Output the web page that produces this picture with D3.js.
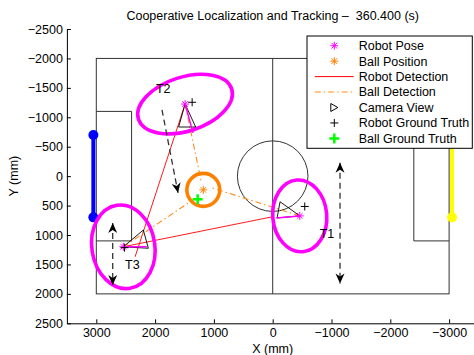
<!DOCTYPE html>
<html>
<head>
<meta charset="utf-8">
<script src="https://cdn.jsdelivr.net/npm/d3@7"></script>
<style>
	body { margin: 0; background: #fff; }
	svg { font-family: "Liberation Sans", Arial, Helvetica, sans-serif; }
</style>
</head>
<body>
<script>
// field geometry (mm)
const fieldX = [3000, -3000];
const fieldY = [-2000, 2000];
const boxX = [2400, -2400];
const boxHalf = 1100;
const circleR = 600;
const goalX = [3050, -3050];
const goalHalf = 700;
const goalColors = ["#0000ff", "#ffff00"];

// robots (mm)
const robotNames = ["T1", "T2", "T3"];
const poseX = [-460, 1490, 2540];
const poseY = [675, -1225, 1200];
const truthX = [-545, 1370, 2520];
const truthY = [515, -1255, 1215];
const headX = [-60, 1355, 2140];
const headY = [710, -735, 1200];
const camX = [[-125, -75], [1600, 1310], [2200, 2115]];
const camY = [[435, 710], [-835, -835], [915, 1225]];
const ellA = [612, 833, 714];
const ellB = [459, 459, 536];
const ellAngle = [85, -18, 81];
const labelX = [-800, 1985, 2510];
const labelY = [1045, -1415, 1580];

// robot detections: from robot index to point
const robotDetFrom = [1, 2];
const robotDetX = [2340, -20];
const robotDetY = [1370, 685];

// ball detections from each robot
const ballDetX = [1030, 1215, 1285];
const ballDetY = [200, 95, 355];
const ballEst = [1180, 233];
const ballR = 280;
const ballTruth = [1276, 391];

// motion arrows
const arrowX1 = [1883, 2721, -1145];
const arrowY1 = [-1128, 796, -226];
const arrowX2 = [1610, 2721, -1145];
const arrowY2 = [284, 1850, 1823];
const arrowBoth = [false, true, true];

const xTicks = [3000, 2000, 1000, 0, -1000, -2000, -3000];
const yTicks = [-2500, -2000, -1500, -1000, -500, 0, 500, 1000, 1500, 2000, 2500];

const legendItems = ["Robot Pose", "Ball Position", "Robot Detection", "Ball Detection",
	"Camera View", "Robot Ground Truth", "Ball Ground Truth"];

const width = 474, height = 355;
const fs = 12.5;

const svg = d3.select("body").append("svg")
	.attr("width", width)
	.attr("height", height);

const x = d3.scaleLinear().domain([3500, -3500]).range([66.9, 478.5]);
const y = d3.scaleLinear().domain([-2500, 2500]).range([29, 323.3]);
const px = d => Math.abs(x(d) - x(0));
const fmt = d3.format("d");

function asterisk(g, cx, cy, s, color) {
	const k = s * 0.7;
	g.append("path")
		.attr("d", `M${cx - s},${cy}H${cx + s}M${cx},${cy - s}V${cy + s}M${cx - k},${cy - k}L${cx + k},${cy + k}M${cx - k},${cy + k}L${cx + k},${cy - k}`)
		.attr("stroke", color).attr("stroke-width", 1).attr("fill", "none");
}
function plus(g, cx, cy, s, color, w) {
	g.append("path")
		.attr("d", `M${cx - s},${cy}H${cx + s}M${cx},${cy - s}V${cy + s}`)
		.attr("stroke", color).attr("stroke-width", w).attr("fill", "none");
}

// axes
svg.append("g")
	.attr("transform", `translate(0,${y(2500)})`)
	.call(d3.axisBottom(x).tickValues(xTicks).tickFormat(fmt).tickSizeInner(-4).tickSizeOuter(0).tickPadding(5));
svg.append("g")
	.attr("transform", `translate(${x(3500)},0)`)
	.call(d3.axisLeft(y).tickValues(yTicks).tickFormat(fmt).tickSizeInner(-4).tickSizeOuter(0).tickPadding(4));
svg.selectAll(".tick text").attr("font-size", fs).attr("fill", "#000");
svg.selectAll(".domain, .tick line").attr("stroke", "#000");
svg.selectAll("g").attr("font-family", null);

svg.append("text")
	.attr("x", x(0)).attr("y", 353)
	.attr("text-anchor", "middle").attr("font-size", fs)
	.text("X (mm)");
svg.append("text")
	.attr("transform", `translate(18,${y(0)}) rotate(-90)`)
	.attr("text-anchor", "middle").attr("font-size", fs)
	.text("Y (mm)");
svg.append("text")
	.attr("x", (x(3500) + x(-3500)) / 2).attr("y", 19.5)
	.attr("text-anchor", "middle").attr("font-size", fs)
	.attr("xml:space", "preserve")
	.text("Cooperative Localization and Tracking \u2013  360.400 (s)");

// field
const field = svg.append("g").attr("stroke", "#333").attr("stroke-width", 1).attr("fill", "none");
field.append("rect")
	.attr("x", x(fieldX[0])).attr("y", y(fieldY[0]))
	.attr("width", x(fieldX[1]) - x(fieldX[0])).attr("height", y(fieldY[1]) - y(fieldY[0]));
field.append("line")
	.attr("x1", x(0)).attr("x2", x(0)).attr("y1", y(fieldY[0])).attr("y2", y(fieldY[1]));
field.append("circle").attr("cx", x(0)).attr("cy", y(0)).attr("r", px(circleR));
boxX.forEach((bx, i) => {
	field.append("path")
		.attr("d", `M${x(fieldX[i])},${y(-boxHalf)}H${x(bx)}V${y(boxHalf)}H${x(fieldX[i])}`);
});

// goals
goalX.forEach((gx, i) => {
	svg.append("line")
		.attr("x1", x(gx)).attr("x2", x(gx)).attr("y1", y(-goalHalf)).attr("y2", y(goalHalf))
		.attr("stroke", goalColors[i]).attr("stroke-width", 4);
	[-goalHalf, goalHalf].forEach(gy => {
		svg.append("circle").attr("cx", x(gx)).attr("cy", y(gy)).attr("r", 5)
			.attr("fill", goalColors[i]);
	});
});

// detections
robotDetFrom.forEach((r, i) => {
	svg.append("line")
		.attr("x1", x(poseX[r])).attr("y1", y(poseY[r]))
		.attr("x2", x(robotDetX[i])).attr("y2", y(robotDetY[i]))
		.attr("stroke", "#ff0000").attr("stroke-width", 0.9);
});
ballDetX.forEach((bx, i) => {
	svg.append("line")
		.attr("x1", x(poseX[i])).attr("y1", y(poseY[i]))
		.attr("x2", x(bx)).attr("y2", y(ballDetY[i]))
		.attr("stroke", "#ff8c1a").attr("stroke-width", 1.1)
		.attr("stroke-dasharray", "6,3,1.5,3");
});

// uncertainty ellipses
robotNames.forEach((n, i) => {
	svg.append("ellipse")
		.attr("transform", `translate(${x(poseX[i])},${y(poseY[i])}) rotate(${ellAngle[i]})`)
		.attr("rx", px(ellA[i])).attr("ry", px(ellB[i]))
		.attr("fill", "none").attr("stroke", "#ff00ff").attr("stroke-width", 3.6);
});
svg.append("circle")
	.attr("cx", x(ballEst[0])).attr("cy", y(ballEst[1])).attr("r", px(ballR))
	.attr("fill", "none").attr("stroke", "#ff8000").attr("stroke-width", 3.6);

// camera views, headings, poses
robotNames.forEach((n, i) => {
	const cx = x(poseX[i]), cy = y(poseY[i]);
	svg.append("path")
		.attr("d", `M${cx},${cy}L${x(camX[i][0])},${y(camY[i][0])}L${x(camX[i][1])},${y(camY[i][1])}Z`)
		.attr("fill", "none").attr("stroke", "#000").attr("stroke-width", 0.9);
	svg.append("line")
		.attr("x1", cx).attr("y1", cy).attr("x2", x(headX[i])).attr("y2", y(headY[i]))
		.attr("stroke", "#ff00ff").attr("stroke-width", 1.5);
	asterisk(svg, cx, cy, 4, "#ff00ff");
	plus(svg, x(truthX[i]), y(truthY[i]), 4, "#000", 1);
	svg.append("text")
		.attr("x", x(labelX[i])).attr("y", y(labelY[i]))
		.attr("font-size", fs).text(n);
});
asterisk(svg, x(ballEst[0]), y(ballEst[1]), 4, "#ff8000");
plus(svg, x(ballTruth[0]), y(ballTruth[1]), 5, "#00ff00", 2.5);

// arrows
function head(gx, gy, ang) {
	svg.append("path")
		.attr("d", "M0,0L-10,-4.5L-7,0L-10,4.5Z")
		.attr("transform", `translate(${gx},${gy}) rotate(${ang})`)
		.attr("fill", "#000");
}
arrowX1.forEach((ax, i) => {
	const x1 = x(ax), y1 = y(arrowY1[i]), x2 = x(arrowX2[i]), y2 = y(arrowY2[i]);
	svg.append("line")
		.attr("x1", x1).attr("y1", y1).attr("x2", x2).attr("y2", y2)
		.attr("stroke", "#333").attr("stroke-width", 1.3).attr("stroke-dasharray", "6,4");
	const ang = Math.atan2(y2 - y1, x2 - x1) * 180 / Math.PI;
	head(x2, y2, ang);
	if (arrowBoth[i]) head(x1, y1, ang + 180);
});

// legend
const lg = svg.append("g");
lg.append("rect")
	.attr("x", 307).attr("y", 36).attr("width", 165.3).attr("height", 112.3)
	.attr("fill", "#fff").attr("stroke", "#000").attr("stroke-width", 1);
legendItems.forEach((t, i) => {
	const ry = 45.7 + i * 15.45;
	lg.append("text").attr("x", 358.7).attr("y", ry).attr("dy", "0.35em")
		.attr("font-size", fs).text(t);
	const mx = 334.3;
	if (i === 0) asterisk(lg, mx, ry, 4, "#ff00ff");
	if (i === 1) asterisk(lg, mx, ry, 4, "#ff8000");
	if (i === 2) lg.append("line").attr("x1", 314.7).attr("x2", 353.7).attr("y1", ry).attr("y2", ry)
		.attr("stroke", "#ff0000").attr("stroke-width", 1);
	if (i === 3) lg.append("line").attr("x1", 314.7).attr("x2", 353.7).attr("y1", ry).attr("y2", ry)
		.attr("stroke", "#ff8c1a").attr("stroke-width", 1.1).attr("stroke-dasharray", "6,3,1.5,3");
	if (i === 4) lg.append("path").attr("d", `M${mx - 3.5},${ry - 4}L${mx + 3.5},${ry}L${mx - 3.5},${ry + 4}Z`)
		.attr("fill", "none").attr("stroke", "#000").attr("stroke-width", 1);
	if (i === 5) plus(lg, mx, ry, 4, "#000", 1);
	if (i === 6) plus(lg, mx, ry, 5, "#00ff00", 2.5);
});
</script>
</body>
</html>
